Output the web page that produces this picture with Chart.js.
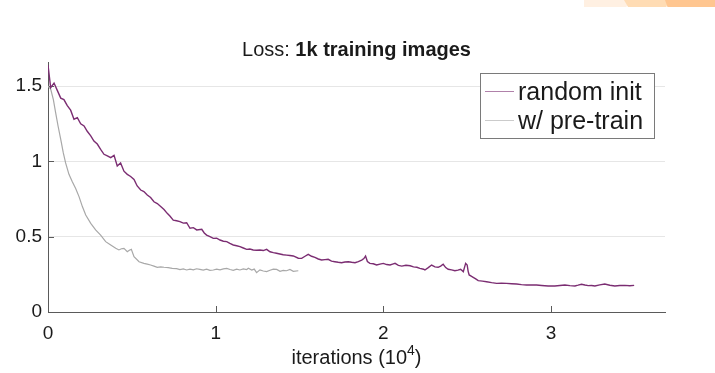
<!DOCTYPE html>
<html>
<head>
<meta charset="utf-8">
<title>Loss: 1k training images</title>
<script src="https://cdn.jsdelivr.net/npm/chart.js@4.4.1/dist/chart.umd.min.js"></script>
<style>
  body { margin: 0; background: #fff; }
  #wrap { position: relative; width: 715px; height: 373px; }
  #lossChart { position: absolute; left: 0; top: 0; }
  /* slide decoration strip in the top-right corner */
  .strip { position: absolute; top: 0; height: 7px; }
  .s1 { left: 584px; width: 46px; background: #fff0e2; clip-path: polygon(0 0, 100% 0, 92% 100%, 0 100%); }
  .s2 { left: 624px; width: 45px; background: #ffdcb4; clip-path: polygon(0 0, 100% 0, 94% 100%, 9% 100%); }
  .s3 { left: 665px; width: 50px; background: #ffc690; clip-path: polygon(0 0, 100% 0, 100% 100%, 5% 100%); }
</style>
</head>
<body>
<div id="wrap">
  <canvas id="lossChart" width="715" height="373"></canvas>
  <div class="strip s1"></div>
  <div class="strip s2"></div>
  <div class="strip s3"></div>
</div>
<script>
// ---- data: iterations in units of 10^4 ----
const randomIters = [
  0, 0.016, 0.036, 0.056, 0.076, 0.095, 0.115, 0.135, 0.155, 0.175,
  0.195, 0.215, 0.234, 0.255, 0.274, 0.294, 0.314, 0.334, 0.354, 0.374,
  0.394, 0.413, 0.433, 0.453, 0.473, 0.493, 0.513, 0.532, 0.553, 0.572,
  0.592, 0.612, 0.632, 0.652, 0.672, 0.692, 0.711, 0.727, 0.747, 0.767,
  0.787, 0.807, 0.827, 0.847, 0.867, 0.887, 0.917, 0.932, 0.946, 0.966,
  0.986, 1.006, 1.026, 1.046, 1.066, 1.085, 1.105, 1.125, 1.145, 1.165,
  1.185, 1.204, 1.224, 1.244, 1.264, 1.284, 1.304, 1.324, 1.344, 1.363,
  1.383, 1.403, 1.423, 1.443, 1.463, 1.493, 1.513, 1.533, 1.552, 1.572,
  1.592, 1.612, 1.632, 1.652, 1.671, 1.691, 1.711, 1.731, 1.751, 1.771,
  1.791, 1.811, 1.831, 1.851, 1.871, 1.884, 1.894, 1.905, 1.920, 1.940,
  1.960, 1.980, 2.000, 2.020, 2.040, 2.055, 2.070, 2.090, 2.110, 2.135,
  2.160, 2.180, 2.200, 2.218, 2.240, 2.248, 2.268, 2.288, 2.308, 2.327,
  2.342, 2.357, 2.372, 2.387, 2.407, 2.427, 2.445, 2.461, 2.477, 2.485,
  2.491, 2.500, 2.506, 2.512, 2.524, 2.536, 2.551, 2.566, 2.591, 2.616,
  2.646, 2.676, 2.705, 2.735, 2.765, 2.795, 2.824, 2.854, 2.884, 2.914,
  2.944, 2.983, 3.023, 3.053, 3.083, 3.113, 3.143, 3.162, 3.182, 3.202,
  3.222, 3.242, 3.262, 3.291, 3.321, 3.351, 3.381, 3.410, 3.440, 3.470,
  3.496
];
const randomLoss = [
  1.64, 1.49, 1.52, 1.47, 1.42, 1.41, 1.37, 1.34, 1.28, 1.29,
  1.25, 1.235, 1.20, 1.17, 1.135, 1.115, 1.08, 1.047, 1.036, 1.025,
  1.04, 0.97, 0.99, 0.935, 0.914, 0.90, 0.88, 0.837, 0.81, 0.80,
  0.777, 0.76, 0.732, 0.72, 0.70, 0.68, 0.655, 0.637, 0.61, 0.606,
  0.60, 0.59, 0.593, 0.556, 0.56, 0.545, 0.549, 0.525, 0.511, 0.50,
  0.489, 0.49, 0.478, 0.47, 0.467, 0.455, 0.445, 0.44, 0.434, 0.425,
  0.416, 0.418, 0.412, 0.41, 0.412, 0.408, 0.416, 0.40, 0.394, 0.39,
  0.385, 0.38, 0.378, 0.375, 0.372, 0.357, 0.356, 0.37, 0.383, 0.37,
  0.363, 0.352, 0.345, 0.348, 0.35, 0.338, 0.334, 0.33, 0.327, 0.332,
  0.334, 0.33, 0.327, 0.335, 0.345, 0.355, 0.372, 0.335, 0.323, 0.32,
  0.312, 0.318, 0.323, 0.315, 0.312, 0.318, 0.323, 0.31, 0.305, 0.31,
  0.307, 0.30, 0.297, 0.29, 0.284, 0.279, 0.295, 0.312, 0.30, 0.297,
  0.305, 0.317, 0.295, 0.284, 0.28, 0.274, 0.278, 0.284, 0.268, 0.30,
  0.323, 0.312, 0.27, 0.246, 0.238, 0.23, 0.22, 0.208, 0.205, 0.201,
  0.195, 0.19, 0.192, 0.19, 0.188, 0.186, 0.182, 0.179, 0.18, 0.179,
  0.176, 0.173, 0.173, 0.176, 0.179, 0.175, 0.173, 0.178, 0.184, 0.179,
  0.175, 0.176, 0.173, 0.18, 0.186, 0.178, 0.173, 0.176, 0.177, 0.174,
  0.177
];

const pretrainIters = [
  0, 0.016, 0.032, 0.046, 0.060, 0.076, 0.091, 0.105, 0.125, 0.145,
  0.165, 0.185, 0.205, 0.225, 0.255, 0.284, 0.314, 0.344, 0.374, 0.404,
  0.423, 0.438, 0.453, 0.473, 0.485, 0.497, 0.513, 0.543, 0.572, 0.592,
  0.612, 0.632, 0.652, 0.672, 0.692, 0.717, 0.741, 0.767, 0.787, 0.807,
  0.827, 0.847, 0.867, 0.886, 0.906, 0.926, 0.946, 0.966, 0.986, 1.006,
  1.026, 1.046, 1.066, 1.086, 1.105, 1.125, 1.145, 1.165, 1.185, 1.195,
  1.215, 1.230, 1.244, 1.264, 1.284, 1.304, 1.324, 1.344, 1.364, 1.384,
  1.403, 1.423, 1.443, 1.463, 1.493
];
const pretrainLoss = [
  1.50, 1.48, 1.41, 1.32, 1.235, 1.147, 1.058, 0.99, 0.914, 0.865,
  0.82, 0.766, 0.70, 0.644, 0.589, 0.545, 0.511, 0.467, 0.445, 0.423,
  0.412, 0.42, 0.423, 0.40, 0.41, 0.416, 0.367, 0.334, 0.323, 0.318,
  0.312, 0.305, 0.297, 0.30, 0.297, 0.295, 0.29, 0.288, 0.282, 0.286,
  0.279, 0.285, 0.28, 0.287, 0.283, 0.278, 0.284, 0.276, 0.279, 0.285,
  0.28, 0.286, 0.29, 0.282, 0.277, 0.284, 0.279, 0.286, 0.282, 0.29,
  0.278, 0.285, 0.261, 0.28, 0.272, 0.268, 0.277, 0.285, 0.283, 0.27,
  0.276, 0.274, 0.282, 0.27, 0.274
];

const xTicks = [0, 1, 2, 3];
const yTicks = [0, 0.5, 1, 1.5];
const X_MAX = 3.68;
const Y_MAX = 1.66;

const seriesNames = ['random init', 'w/ pre-train'];
const seriesColors = ['#7b2d72', '#a8a8a8'];

const FONT = "'Liberation Sans', Arial, Helvetica, sans-serif";
const TEXT_COLOR = '#1a1a1a';
const AXIS_COLOR = '#5a5a5a';

function toPoints(xs, ys) {
  return xs.map((x, i) => ({ x: x, y: ys[i] }));
}

// title "Loss: <bold>1k training images</bold>" + axis label with superscript
const textPlugin = {
  id: 'textPlugin',
  afterDraw(chart) {
    const ctx = chart.ctx;
    const area = chart.chartArea;
    const cx = (area.left + area.right) / 2;
    ctx.save();
    ctx.fillStyle = TEXT_COLOR;
    ctx.textBaseline = 'alphabetic';
    ctx.textAlign = 'left';

    // title
    const normal = '20px ' + FONT;
    const bold = 'bold 20px ' + FONT;
    const t1 = 'Loss: ';
    const t2 = '1k training images';
    ctx.font = normal;
    const w1 = ctx.measureText(t1).width;
    ctx.font = bold;
    const w2 = ctx.measureText(t2).width;
    let tx = cx - (w1 + w2) / 2;
    ctx.font = normal;
    ctx.fillText(t1, tx, area.top - 6);
    ctx.font = bold;
    ctx.fillText(t2, tx + w1, area.top - 6);

    // x axis label: iterations (10^4)
    const main = 'iterations (10';
    const sup = '4';
    const tail = ')';
    ctx.font = '20px ' + FONT;
    const wm = ctx.measureText(main).width;
    const wt = ctx.measureText(tail).width;
    ctx.font = '14px ' + FONT;
    const ws = ctx.measureText(sup).width;
    let lx = cx - (wm + ws + wt) / 2;
    const ly = area.bottom + 52;
    ctx.font = '20px ' + FONT;
    ctx.fillText(main, lx, ly);
    ctx.font = '14px ' + FONT;
    ctx.fillText(sup, lx + wm, ly - 9);
    ctx.font = '20px ' + FONT;
    ctx.fillText(tail, lx + wm + ws, ly);
    ctx.restore();
  }
};

// inward tick marks on both axes
const tickMarks = {
  id: 'tickMarks',
  beforeDatasetsDraw(chart) {
    const ctx = chart.ctx;
    const area = chart.chartArea;
    const xs = chart.scales.x;
    const ys = chart.scales.y;
    ctx.save();
    ctx.strokeStyle = AXIS_COLOR;
    ctx.lineWidth = 1;
    ctx.beginPath();
    xTicks.forEach(v => {
      const px = Math.round(xs.getPixelForValue(v)) + 0.5;
      ctx.moveTo(px, area.bottom);
      ctx.lineTo(px, area.bottom - 6);
    });
    yTicks.forEach(v => {
      const py = Math.round(ys.getPixelForValue(v)) + 0.5;
      ctx.moveTo(area.left, py);
      ctx.lineTo(area.left + 6, py);
    });
    ctx.stroke();
    ctx.restore();
  }
};

// boxed legend in the upper right of the plot
const boxLegend = {
  id: 'boxLegend',
  afterDraw(chart) {
    const ctx = chart.ctx;
    const area = chart.chartArea;
    const w = 174, h = 65;
    const left = area.right - 11 - w;
    const top = area.top + 11;
    ctx.save();
    ctx.fillStyle = '#fff';
    ctx.fillRect(left, top, w, h);
    ctx.strokeStyle = '#7a7a7a';
    ctx.lineWidth = 1;
    ctx.strokeRect(Math.round(left) + 0.5, Math.round(top) + 0.5, w, h);
    ctx.font = '25px ' + FONT;
    ctx.textBaseline = 'alphabetic';
    ctx.textAlign = 'left';
    chart.data.datasets.forEach((ds, i) => {
      const rowY = top + 18 + i * 29;
      ctx.globalAlpha = 0.6;
      ctx.strokeStyle = ds.borderColor;
      ctx.lineWidth = 1;
      ctx.beginPath();
      ctx.moveTo(left + 5, rowY + 0.5);
      ctx.lineTo(left + 34, rowY + 0.5);
      ctx.stroke();
      ctx.globalAlpha = 1;
      ctx.fillStyle = TEXT_COLOR;
      ctx.fillText(ds.label, left + 38, rowY + 9);
    });
    ctx.restore();
  }
};

const ctx = document.getElementById('lossChart').getContext('2d');
new Chart(ctx, {
  type: 'line',
  data: {
    datasets: [
      {
        label: seriesNames[0],
        data: toPoints(randomIters, randomLoss),
        borderColor: seriesColors[0],
        borderWidth: 1.4,
        pointRadius: 0,
        tension: 0,
        fill: false,
      },
      {
        label: seriesNames[1],
        data: toPoints(pretrainIters, pretrainLoss),
        borderColor: seriesColors[1],
        borderWidth: 1.2,
        pointRadius: 0,
        tension: 0,
        fill: false,
      }
    ]
  },
  options: {
    responsive: false,
    animation: false,
    layout: { padding: { top: 62, right: 50, bottom: 0, left: 0 } },
    plugins: {
      legend: { display: false },
      title: { display: false },
      tooltip: { enabled: false },
    },
    scales: {
      x: {
        type: 'linear',
        min: 0,
        max: X_MAX,
        afterBuildTicks: (scale) => { scale.ticks = xTicks.map(v => ({ value: v })); },
        afterFit: (scale) => { scale.height = 61; },
        grid: { display: false, drawTicks: false },
        border: { display: true, color: AXIS_COLOR, width: 1 },
        ticks: {
          padding: 10,
          color: TEXT_COLOR,
          font: { family: FONT, size: 19 },
          maxRotation: 0,
          callback: (v) => String(v),
        },
      },
      y: {
        type: 'linear',
        min: 0,
        max: Y_MAX,
        afterBuildTicks: (scale) => { scale.ticks = yTicks.map(v => ({ value: v })); },
        afterFit: (scale) => { scale.width = 48; },
        grid: { color: '#e6e6e6', lineWidth: 1, drawTicks: false },
        border: { display: true, color: AXIS_COLOR, width: 1 },
        ticks: {
          padding: 6,
          color: TEXT_COLOR,
          font: { family: FONT, size: 19 },
          callback: (v) => String(v),
        },
      }
    }
  },
  plugins: [tickMarks, textPlugin, boxLegend]
});
</script>
</body>
</html>
